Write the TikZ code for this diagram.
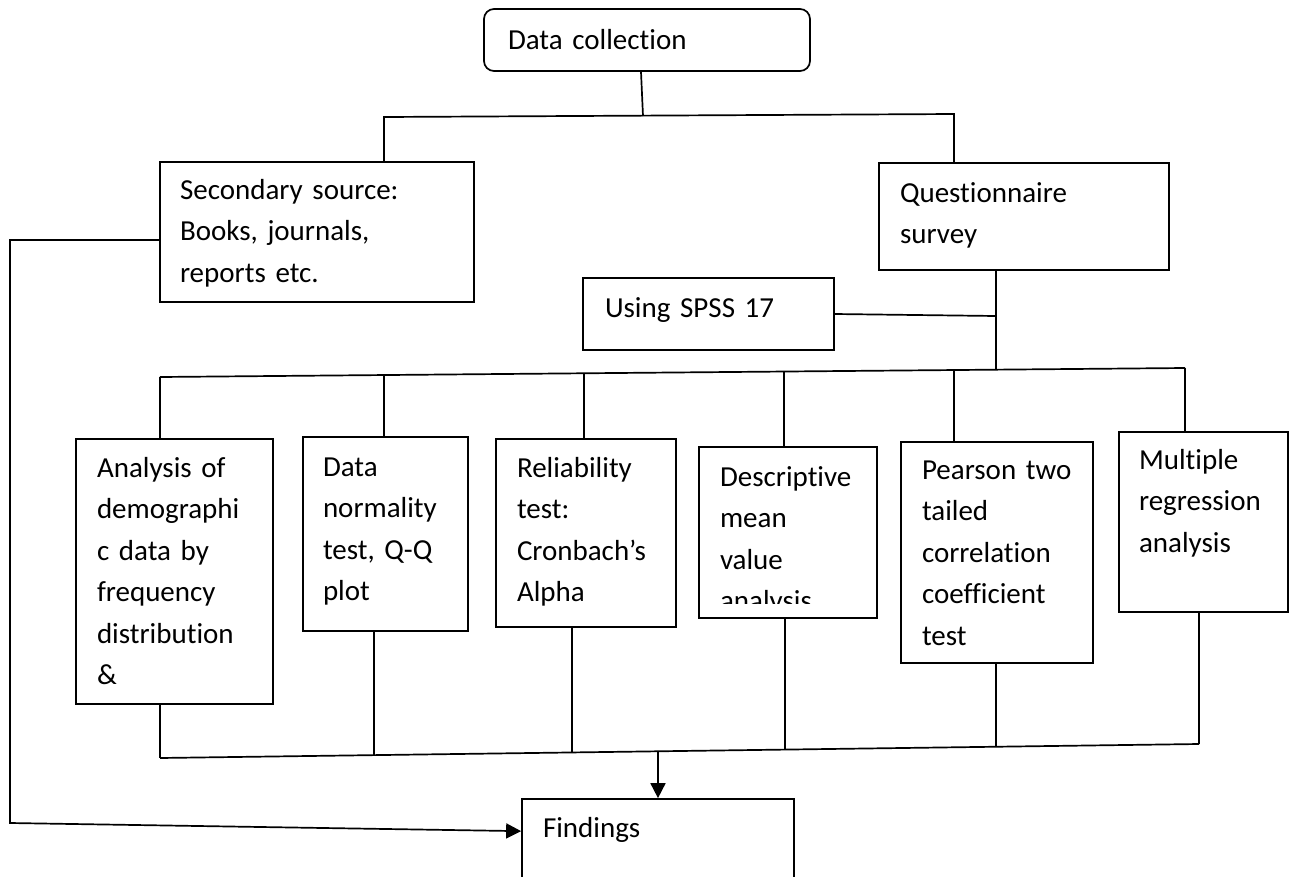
\documentclass[tikz,border=0pt]{standalone}
\usepackage{fontspec}
\setmainfont{Carlito}[Ligatures=NoCommon]
\usetikzlibrary{fit,arrows.meta}
\begin{document}
\begin{tikzpicture}[x=1pt,y=-1pt,
  line width=1.7pt,
  box/.style={draw, inner sep=0pt, line width=1.7pt},
  txt/.style={anchor=base west, inner sep=0pt, align=left, text width=240pt, font=\fontsize{29}{41.5}\selectfont},
  arr/.style={-{Triangle[length=15pt,width=15pt]}},
]
\fill[white] (0,0) rectangle (1291,876);
\useasboundingbox (0,0) rectangle (1291,876);

% boxes
\node[box, rounded corners=10pt, fit={(484,9)(810,71)}] (DC) {};
\node[txt] (tDC) at ([shift={(24,41)}]DC.north west) {Data collection};

\node[box, fit={(160,162)(474,302)}] (Sec) {};
\node[txt] (tSec) at ([shift={(20,38)}]Sec.north west) {Secondary source:\\Books, journals,\\reports etc.};

\node[box, fit={(879,163)(1169,270)}] (Q) {};
\node[txt] (tQ) at ([shift={(21,40)}]Q.north west) {Questionnaire\\survey};

\node[box, fit={(583,278)(834,350)}] (S) {};
\node[txt] (tS) at ([shift={(22,40)}]S.north west) {Using SPSS 17};

\node[box, fit={(76,439)(273,704)}] (A) {};
\node[txt] (tA) at ([shift={(21,39)}]A.north west) {Analysis of\\demographi\\c data by\\frequency\\distribution\\\&};

\node[box, fit={(303,437)(468,631)}] (N) {};
\node[txt] (tN) at ([shift={(20,40)}]N.north west) {Data\\normality\\test, Q-Q\\plot};

\node[box, fit={(496,439)(676,627)}] (R) {};
\node[txt] (tR) at ([shift={(21,39)}]R.north west) {Reliability\\test:\\Cronbach’s\\Alpha};

\node[box, fit={(699,447)(877,618)}] (D) {};
\begin{scope}
\clip (699,447) rectangle (877,603);
\node[txt] (tD) at ([shift={(21,40)}]D.north west) {Descriptive\\mean\\value\\analysis};
\end{scope}

\node[box, fit={(901,442)(1093,663)}] (P) {};
\node[txt] (tP) at ([shift={(21,38)}]P.north west) {Pearson two\\tailed\\correlation\\coefficient\\test};

\node[box, fit={(1119,432)(1288,612)}] (M) {};
\node[txt] (tM) at ([shift={(20,38)}]M.north west) {Multiple\\regression\\analysis};

\node[box, fit={(522,799)(794,895)}] (F) {};
\node[txt] (tF) at ([shift={(21,39)}]F.north west) {Findings};

% top connectors
\coordinate (j) at (643,116);
\coordinate (t1) at (384,117);
\coordinate (t2) at (954,114);
\draw ([xshift=-6pt]DC.south) -- (j);
\draw (Sec.north -| t1) -- (t1) -- (t2) -- (Q.north -| t2);

\coordinate (q1) at (996,316);
\coordinate (q2) at (996,370);
\draw (Q.south -| q2) -- (q1) -- (q2);
\draw (S.east) -- (q1);

% distribution bus
\coordinate (m0) at (160,377);
\coordinate (m1) at (384,375);
\coordinate (m2) at (584,373.3);
\coordinate (m3) at (784,371.5);
\coordinate (m4) at (954,370);
\coordinate (m5) at (1185,368);
\draw (m0) -- (m5);
\draw (m0) -- (A.north -| m0);
\draw (m1) -- (N.north -| m1);
\draw (m2) -- (R.north -| m2);
\draw (m3) -- (D.north -| m3);
\draw (m4) -- (P.north -| m4);
\draw (m5) -- (M.north -| m5);

% collecting bus
\coordinate (n0) at (160,758);
\coordinate (n1) at (374,755);
\coordinate (n2) at (572,752.4);
\coordinate (n3) at (785,749.6);
\coordinate (n4) at (996,746.7);
\coordinate (n5) at (1199,744);
\coordinate (nf) at (658,751.3);
\draw (n0) -- (n5);
\draw (A.south -| n0) -- (n0);
\draw (N.south -| n1) -- (n1);
\draw (R.south -| n2) -- (n2);
\draw (D.south -| n3) -- (n3);
\draw (P.south -| n4) -- (n4);
\draw (M.south -| n5) -- (n5);
\draw[arr] (nf) -- (F.north);

% secondary source to findings
\coordinate (l1) at (10,240);
\coordinate (l2) at (10,823);
\draw[arr] ([yshift=-8pt]Sec.west) -- (l1) -- (l2) -- ([yshift=-33pt]F.north west);
\end{tikzpicture}
\end{document}
